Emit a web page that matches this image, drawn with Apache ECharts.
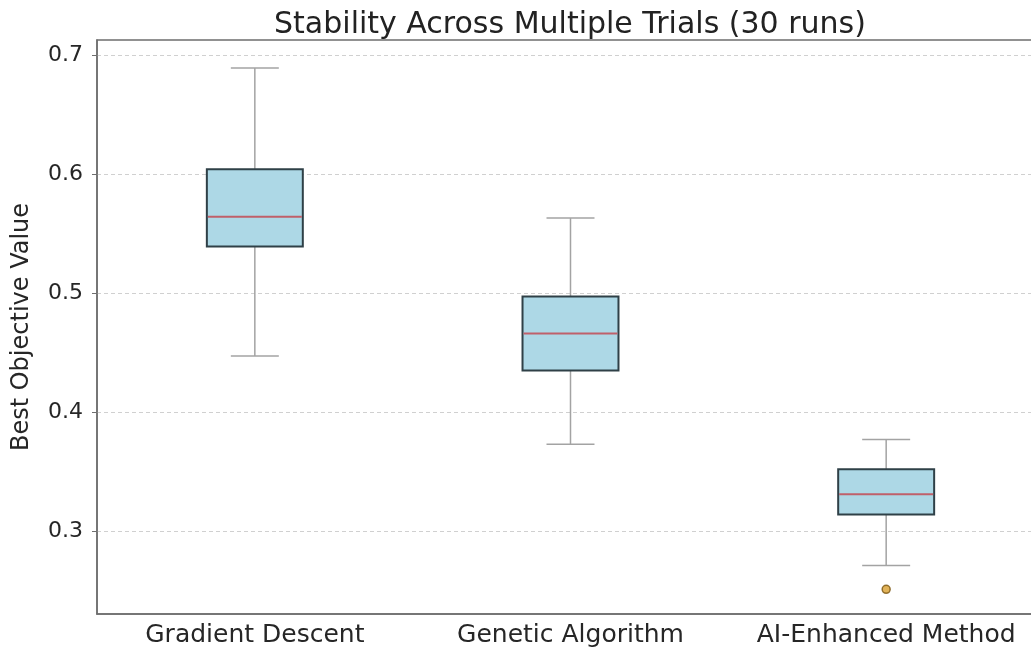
<!DOCTYPE html>
<html>
<head>
<meta charset="utf-8">
<script src="https://cdn.jsdelivr.net/npm/echarts@6/dist/echarts.min.js"></script>
<style>
  html, body { margin: 0; padding: 0; background: #ffffff; }
  #chart { width: 1031px; height: 649px; }
</style>
</head>
<body>
<div id="chart"></div>
<script>
// Methods compared over 30 independent runs
const methods = ['Gradient Descent', 'Genetic Algorithm', 'AI-Enhanced Method'];

// Five-number summaries per method: [lower whisker, Q1, median, Q3, upper whisker]
const lowerWhisker = [0.447, 0.373, 0.271];
const quartile1    = [0.539, 0.435, 0.314];
const medians      = [0.564, 0.466, 0.331];
const quartile3    = [0.604, 0.497, 0.352];
const upperWhisker = [0.689, 0.563, 0.377];

// Points beyond the whiskers: [method index, value]
const outliers = [[2, 0.251]];

// Y axis tick values
const yTicks = [0.3, 0.4, 0.5, 0.6, 0.7];

const FONT = 'DejaVu Sans';

const boxData = methods.map((m, i) => [
  i, lowerWhisker[i], quartile1[i], medians[i], quartile3[i], upperWhisker[i]
]);

function renderBox(params, api) {
  const idx = api.value(0);
  const band = api.size([1, 0])[0];
  const boxW = band * 0.304;
  const capW = boxW * 0.5;
  const pLow = api.coord([idx, api.value(1)]);
  const pQ1 = api.coord([idx, api.value(2)]);
  const pMed = api.coord([idx, api.value(3)]);
  const pQ3 = api.coord([idx, api.value(4)]);
  const pHigh = api.coord([idx, api.value(5)]);
  const cx = pQ1[0];
  const whiskerStyle = { stroke: '#a3a3a3', lineWidth: 1.5 };
  return {
    type: 'group',
    children: [
      { type: 'line', shape: { x1: cx, y1: pQ3[1], x2: cx, y2: pHigh[1] }, style: whiskerStyle },
      { type: 'line', shape: { x1: cx, y1: pQ1[1], x2: cx, y2: pLow[1] }, style: whiskerStyle },
      { type: 'line', shape: { x1: cx - capW / 2, y1: pHigh[1], x2: cx + capW / 2, y2: pHigh[1] }, style: whiskerStyle },
      { type: 'line', shape: { x1: cx - capW / 2, y1: pLow[1], x2: cx + capW / 2, y2: pLow[1] }, style: whiskerStyle },
      {
        type: 'rect',
        shape: { x: cx - boxW / 2, y: pQ3[1], width: boxW, height: pQ1[1] - pQ3[1] },
        style: { fill: '#add8e6', stroke: '#2f4047', lineWidth: 2 }
      },
      {
        type: 'line',
        shape: { x1: cx - boxW / 2 + 1, y1: pMed[1], x2: cx + boxW / 2 - 1, y2: pMed[1] },
        style: { stroke: '#c0606a', lineWidth: 2 }
      }
    ]
  };
}

const chart = echarts.init(document.getElementById('chart'), null, { renderer: 'canvas' });

chart.setOption({
  animation: false,
  backgroundColor: '#ffffff',
  title: {
    text: 'Stability Across Multiple Trials (30 runs)',
    left: 565,
    textAlign: 'center',
    top: 5,
    textStyle: { fontFamily: FONT, fontSize: 30, fontWeight: 'normal', color: '#222222' }
  },
  grid: {
    left: 97, top: 40, width: 947, height: 574,
    outerBoundsMode: 'none',
    containLabel: false,
    show: true, borderColor: '#6e6e6e', borderWidth: 1.5, backgroundColor: 'transparent'
  },
  xAxis: {
    type: 'category',
    data: methods,
    boundaryGap: true,
    axisLine: { lineStyle: { color: '#6e6e6e', width: 1.5 } },
    axisTick: { alignWithLabel: true, length: 3, lineStyle: { color: '#6e6e6e' } },
    axisLabel: { fontFamily: FONT, fontSize: 25, color: '#262626', margin: 9, interval: 0 },
    splitLine: { show: false }
  },
  yAxis: {
    type: 'value',
    min: 0.2303,
    max: 0.7126,
    name: 'Best Objective Value',
    nameLocation: 'middle',
    nameGap: 63,
    nameTextStyle: { fontFamily: FONT, fontSize: 24, color: '#262626' },
    axisLine: { show: true, lineStyle: { color: '#6e6e6e', width: 1.5 } },
    axisTick: { show: true, length: 5, customValues: yTicks, lineStyle: { color: '#6e6e6e' } },
    axisLabel: {
      fontFamily: FONT, fontSize: 22, color: '#262626', margin: 14,
      customValues: yTicks,
      formatter: v => v.toFixed(1)
    },
    splitLine: { show: true, lineStyle: { color: '#d0d0d0', type: [4, 3], width: 1 } }
  },
  series: [
    {
      type: 'custom',
      renderItem: renderBox,
      data: boxData,
      encode: { x: 0, y: [1, 2, 3, 4, 5] },
      z: 3
    },
    {
      type: 'scatter',
      data: outliers,
      symbol: 'circle',
      symbolSize: 8,
      itemStyle: { color: '#d9a030', borderColor: '#7a5510', borderWidth: 1.5 },
      z: 4
    }
  ]
});
</script>
</body>
</html>
